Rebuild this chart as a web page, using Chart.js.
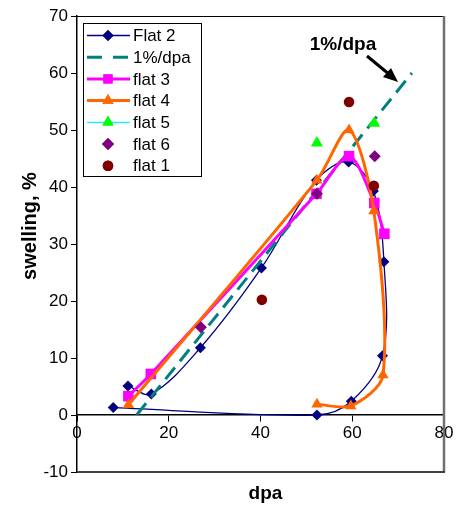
<!DOCTYPE html>
<html>
<head>
<meta charset="utf-8">
<script src="https://cdn.jsdelivr.net/npm/chart.js@4"></script>
<style>
  body { margin: 0; background: #fff; }
  #wrap { width: 464px; height: 508px; }
</style>
</head>
<body>
<div id="wrap"><canvas id="graphique"></canvas></div>
<script>
// data (dpa, swelling %)
const flat2X = [11.1, 16.2, 26.9, 40.2, 52.2, 59.2, 64.6, 66.9, 66.6, 59.8, 52.3, 7.9];
const flat2Y = [5.1, 3.7, 11.8, 25.8, 41.2, 44.4, 39.3, 26.9, 10.4, 2.4, 0, 1.3];
const lineX = [13, 73];
const lineY = [0, 60];
const flat3X = [11.2, 16.1, 52.2, 59.3, 64.8, 67.0];
const flat3Y = [3.3, 7.2, 38.8, 45.4, 37.2, 31.8];
const flat4X = [11.2, 52.3, 59.3, 64.7, 66.7, 59.7, 52.3];
const flat4Y = [1.8, 41.2, 50.0, 35.8, 7.0, 1.6, 1.9];
const flat5X = [52.3, 64.8];
const flat5Y = [47.7, 51.2];
const flat6X = [27.0, 52.3, 64.9];
const flat6Y = [15.4, 38.8, 45.4];
const flat1X = [40.3, 59.3, 64.7];
const flat1Y = [20.2, 54.9, 40.2];

const xTicks = [0, 20, 40, 60, 80];
const yTicks = [-10, 0, 10, 20, 30, 40, 50, 60, 70];

const police = 'Arial, "Liberation Sans", sans-serif';

function points(xs, ys) {
    return xs.map((x, i) => ({ x: x, y: ys[i] }));
}

const series = [
    { label: 'Flat 2', data: points(flat2X, flat2Y), borderColor: '#000080', backgroundColor: '#000080',
      borderWidth: 1.3, pointStyle: 'rectRot', pointRadius: 5.5, showLine: true, tension: 0.35, legendLine: '#000080' },
    { label: '1%/dpa', data: points(lineX, lineY), borderColor: '#008080', backgroundColor: '#008080',
      borderWidth: 3, borderDash: [15, 8], pointRadius: 0, showLine: true, legendLine: '#008080', legendDash: true },
    { label: 'flat 3', data: points(flat3X, flat3Y), borderColor: '#ff00ff', backgroundColor: '#ff00ff',
      borderWidth: 3, pointStyle: 'rect', pointRadius: 7.5, showLine: true, tension: 0.3, legendLine: '#ff00ff' },
    { label: 'flat 4', data: points(flat4X, flat4Y), borderColor: '#ff6600', backgroundColor: '#ff6600',
      borderWidth: 3, pointStyle: 'triangle', pointRadius: 6.5, showLine: true, tension: 0.3, legendLine: '#ff6600' },
    { label: 'flat 5', data: points(flat5X, flat5Y), borderColor: '#00ff00', backgroundColor: '#00ff00',
      borderWidth: 0, pointStyle: 'triangle', pointRadius: 7, showLine: false, legendLine: '#00ffff' },
    { label: 'flat 6', data: points(flat6X, flat6Y), borderColor: '#800080', backgroundColor: '#800080',
      borderWidth: 0, pointStyle: 'rectRot', pointRadius: 6, showLine: false, legendLine: null },
    { label: 'flat 1', data: points(flat1X, flat1Y), borderColor: '#800000', backgroundColor: '#800000',
      borderWidth: 0, pointStyle: 'circle', pointRadius: 5.3, showLine: false, legendLine: null }
];

// cadre, titres, légende et annotation dessinés à la main (style Excel)
const decor = {
    id: 'decor',
    afterDatasetsDraw(chart) {
        const ctx = chart.ctx;
        const a = chart.chartArea;
        ctx.save();
        // cadre
        ctx.strokeStyle = '#000';
        ctx.lineWidth = 1;
        ctx.beginPath();
        ctx.moveTo(a.left, a.top + 0.5);
        ctx.lineTo(a.right, a.top + 0.5);
        ctx.stroke();
        ctx.strokeStyle = '#707070';
        ctx.lineWidth = 2.5;
        ctx.beginPath();
        ctx.moveTo(a.right, a.top);
        ctx.lineTo(a.right, a.bottom);
        ctx.stroke();
        ctx.strokeStyle = '#404040';
        ctx.lineWidth = 2;
        ctx.beginPath();
        ctx.moveTo(a.left, a.bottom);
        ctx.lineTo(a.right + 1, a.bottom);
        ctx.stroke();

        // titres des axes
        ctx.fillStyle = '#000';
        ctx.font = 'bold 19px ' + police;
        ctx.textAlign = 'center';
        ctx.textBaseline = 'middle';
        ctx.fillText('dpa', (a.left + a.right) / 2 + 5, 494);
        ctx.save();
        ctx.translate(30, 226);
        ctx.rotate(-Math.PI / 2);
        ctx.font = 'bold 20px ' + police;
        ctx.fillText('swelling, %', 0, 0);
        ctx.restore();

        // annotation 1%/dpa avec flèche
        ctx.font = 'bold 19px ' + police;
        ctx.fillText('1%/dpa', 343, 45);
        ctx.strokeStyle = '#000';
        ctx.lineWidth = 3;
        ctx.beginPath();
        ctx.moveTo(367, 56);
        ctx.lineTo(390, 75);
        ctx.stroke();
        ctx.beginPath();
        ctx.moveTo(398, 82);
        ctx.lineTo(383, 77);
        ctx.lineTo(391, 68);
        ctx.closePath();
        ctx.fill();

        // légende
        const bx = 83, by = 23, bw = 118, bh = 153;
        ctx.fillStyle = '#fff';
        ctx.fillRect(bx, by, bw, bh);
        ctx.strokeStyle = '#000';
        ctx.lineWidth = 1;
        ctx.strokeRect(bx + 0.5, by + 0.5, bw, bh);
        ctx.font = '17px ' + police;
        ctx.textAlign = 'left';
        series.forEach((s, i) => {
            const cy = by + 12.5 + i * 21.7;
            if (s.legendLine) {
                ctx.strokeStyle = s.legendLine;
                ctx.lineWidth = s.label === 'Flat 2' ? 1.3 : (s.label === 'flat 5' ? 1.3 : 3);
                ctx.setLineDash(s.legendDash ? [15, 11] : []);
                ctx.beginPath();
                ctx.moveTo(bx + 4, cy);
                ctx.lineTo(bx + 47, cy);
                ctx.stroke();
                ctx.setLineDash([]);
            }
            if (s.pointRadius > 0) {
                ctx.fillStyle = s.backgroundColor;
                ctx.strokeStyle = s.backgroundColor;
                ctx.lineWidth = 0;
                Chart.helpers.drawPoint(ctx, {
                    pointStyle: s.pointStyle,
                    radius: Math.min(s.pointRadius, 6.5),
                    borderWidth: 0,
                    rotation: 0
                }, bx + 25, cy);
                ctx.fill();
            }
            ctx.fillStyle = '#000';
            ctx.fillText(s.label, bx + 50, cy + 1);
        });
        ctx.restore();
    }
};

const ctxGraph = document.getElementById('graphique').getContext('2d');

new Chart(ctxGraph, {
    type: 'scatter',
    data: {
        datasets: series.map((s, i) => ({
            label: s.label,
            data: s.data,
            borderColor: s.borderColor,
            backgroundColor: s.backgroundColor,
            borderWidth: s.borderWidth,
            borderDash: s.borderDash || [],
            pointStyle: s.pointStyle,
            pointRadius: s.pointRadius,
            pointBorderWidth: 0,
            pointHoverRadius: s.pointRadius,
            showLine: s.showLine,
            tension: s.tension || 0,
            order: -i
        }))
    },
    options: {
        responsive: true,
        maintainAspectRatio: false,
        animation: false,
        layout: { padding: { left: 0, right: 20, top: 16, bottom: 36 } },
        plugins: {
            legend: { display: false },
            tooltip: { enabled: false }
        },
        scales: {
            x: {
                type: 'linear',
                position: { y: 0 },
                min: 0,
                max: 80,
                afterBuildTicks: scale => { scale.ticks = xTicks.map(v => ({ value: v })); },
                ticks: { color: '#000', font: { family: police, size: 17 }, padding: 2, maxRotation: 0 },
                grid: { drawOnChartArea: false, drawTicks: true, tickLength: 6, color: '#000' },
                border: { display: true, color: '#000', width: 1.5 }
            },
            y: {
                type: 'linear',
                min: -10,
                max: 70,
                afterBuildTicks: scale => { scale.ticks = yTicks.map(v => ({ value: v })); },
                afterFit: scale => { scale.width = 77; },
                ticks: { color: '#000', font: { family: police, size: 17 }, padding: 3 },
                grid: { drawOnChartArea: false, drawTicks: true, tickLength: 6, color: '#000' },
                border: { display: true, color: '#000', width: 1.5 }
            }
        }
    },
    plugins: [decor]
});
</script>
</body>
</html>
